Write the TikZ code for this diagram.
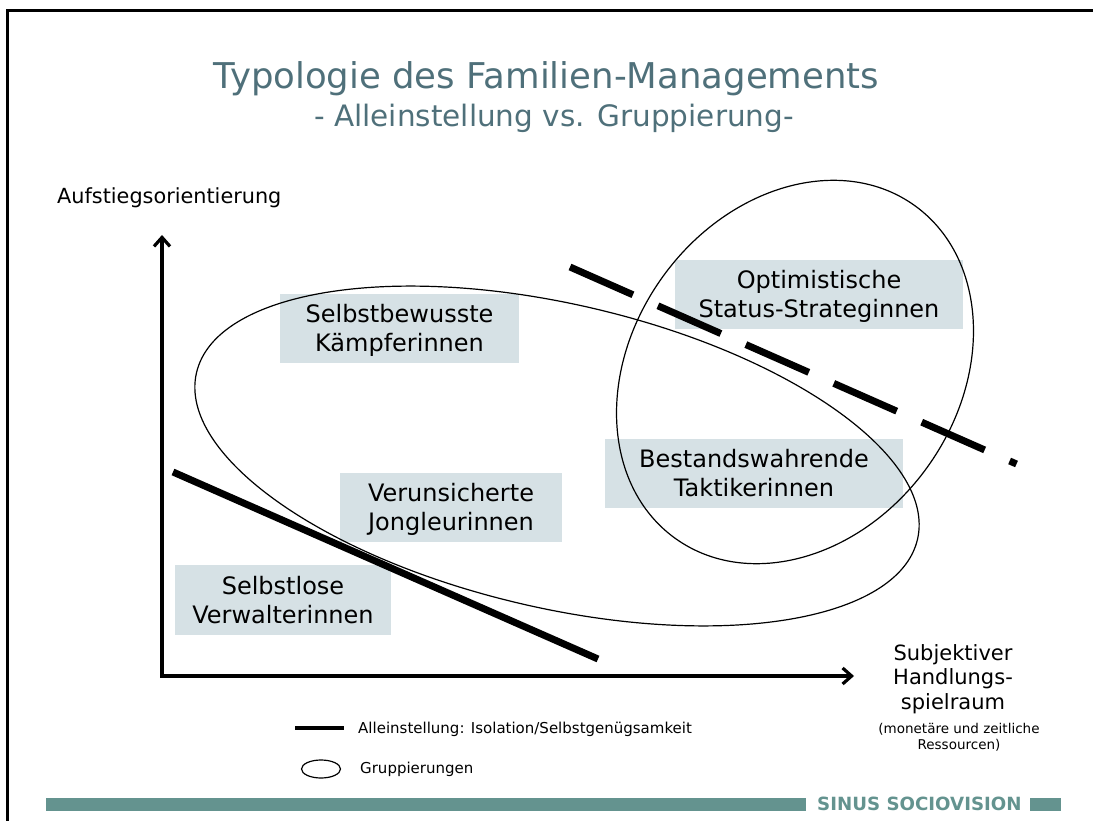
\documentclass[tikz,border=0pt]{standalone}
\usepackage{fontspec}
\setmainfont{DejaVu Sans}
\usetikzlibrary{shapes.geometric,arrows.meta}
\definecolor{titlec}{HTML}{4F707A}
\definecolor{boxc}{HTML}{D6E1E5}
\definecolor{barc}{HTML}{64938F}
\begin{document}
\begin{tikzpicture}[x=1pt,y=-1pt,
  typebox/.style={fill=boxc, draw=none, inner sep=0pt, minimum height=69pt},
  typetext/.style={inner sep=0pt, align=center, font=\fontsize{24}{29}\selectfont},
  grp/.style={ellipse, draw, line width=1.2pt, inner sep=0pt},
  axisline/.style={line width=3.2pt, line join=miter,
     {Straight Barb[length=9pt,width=16pt]}-{Straight Barb[length=9pt,width=16pt]}},
]
\useasboundingbox (0,0) rectangle (1093,821);
% frame
\coordinate (fbl) at (7,821);
\coordinate (ftl) at (7,11);
\coordinate (ftr) at (1093,11);
\draw[line width=3pt] (fbl) -- (ftl) -- (ftr);
% bottom bar
\fill[barc] (46,798) rectangle (806,811);
\fill[barc] (1030,798) rectangle (1061,811);
\node[font=\bfseries\fontsize{18.2}{20}\selectfont, text=barc, anchor=base west, inner sep=0pt] (brand) at (817,810.5) {SINUS SOCIOVISION};
% title
\node[font=\fontsize{35.5}{40}\selectfont, text=titlec, anchor=base, inner sep=0pt] (title) at (546.5,89) {Typologie des Familien-Managements};
\node[font=\fontsize{29.5}{34}\selectfont, text=titlec, anchor=base, inner sep=0pt] (subtitle) at (554,127) {- Alleinstellung vs. Gruppierung-};
% boxes
\node[typebox, minimum width=288pt] (opt) at (819,294.5) {};
\node[typetext] (optt) at ([yshift=-2.7pt]opt.center) {\strut Optimistische\\\strut Status-Strateginnen};
\node[typebox, minimum width=298pt] (best) at (754,473.5) {};
\node[typetext] (bestt) at ([yshift=-2.7pt]best.center) {\strut Bestandswahrende\\\strut Taktikerinnen};
\node[typebox, minimum width=239pt] (kampf) at (399.5,328.5) {};
\node[typetext] (kampft) at ([yshift=-2.7pt]kampf.center) {\strut Selbstbewusste\\\strut Kämpferinnen};
\node[typebox, minimum width=222pt] (verun) at (451,507.5) {};
\node[typetext] (verunt) at ([yshift=-2.7pt]verun.center) {\strut Verunsicherte\\\strut Jongleurinnen};
\node[typebox, minimum width=216pt, minimum height=70pt] (slos) at (283,600) {};
\node[typetext] (slost) at ([yshift=-2.7pt]slos.center) {\strut Selbstlose\\\strut Verwalterinnen};
% groupings
\node[grp, minimum width=740pt, minimum height=304pt, rotate=-13] (g1) at (557,456) {};
\node[grp, minimum width=410pt, minimum height=326pt, rotate=54.2] (g2) at (795,372) {};
% isolation line
\coordinate (s1) at (173,472);
\coordinate (s2) at (598,659);
\draw[line width=7pt] (s1) -- (s2);
% dashed line
\coordinate (d1) at (570,267);
\coordinate (d2) at (1016.5,464);
\draw[line width=7pt, dash pattern=on 68.8pt off 27.3pt] (d1) -- (d2);
% axes
\coordinate (ytop) at (162,235);
\coordinate (orig) at (162,676);
\coordinate (xend) at (854,676);
\draw[axisline] (ytop) -- (orig) -- (xend);
\node[font=\fontsize{20.8}{24}\selectfont, anchor=base west, inner sep=0pt] (ylab) at (57,204) {Aufstiegsorientierung};
\node[font=\fontsize{21}{24.5}\selectfont, align=center, anchor=north, inner sep=0pt] (xlab) at (953,644) {Subjektiver\\Handlungs-\\spielraum};
\node[font=\fontsize{13.5}{15.5}\selectfont, align=center, anchor=north, inner sep=0pt] (xsub) at (959,723.5) {(monetäre und zeitliche\\Ressourcen)};
% legend
\coordinate (l1) at (295,728);
\coordinate (l2) at (344,728);
\draw[line width=3.4pt] (l1) -- (l2);
\node[font=\fontsize{15}{18}\selectfont, anchor=base west, inner sep=0pt] (leg1) at (358,733) {Alleinstellung: Isolation/Selbstgenügsamkeit};
\node[ellipse, draw, line width=1.2pt, minimum width=39pt, minimum height=18pt, inner sep=0pt] (legell) at (321,769) {};
\node[font=\fontsize{15}{18}\selectfont, anchor=base west, inner sep=0pt] (leg2) at (360,773) {Gruppierungen};
\end{tikzpicture}
\end{document}
